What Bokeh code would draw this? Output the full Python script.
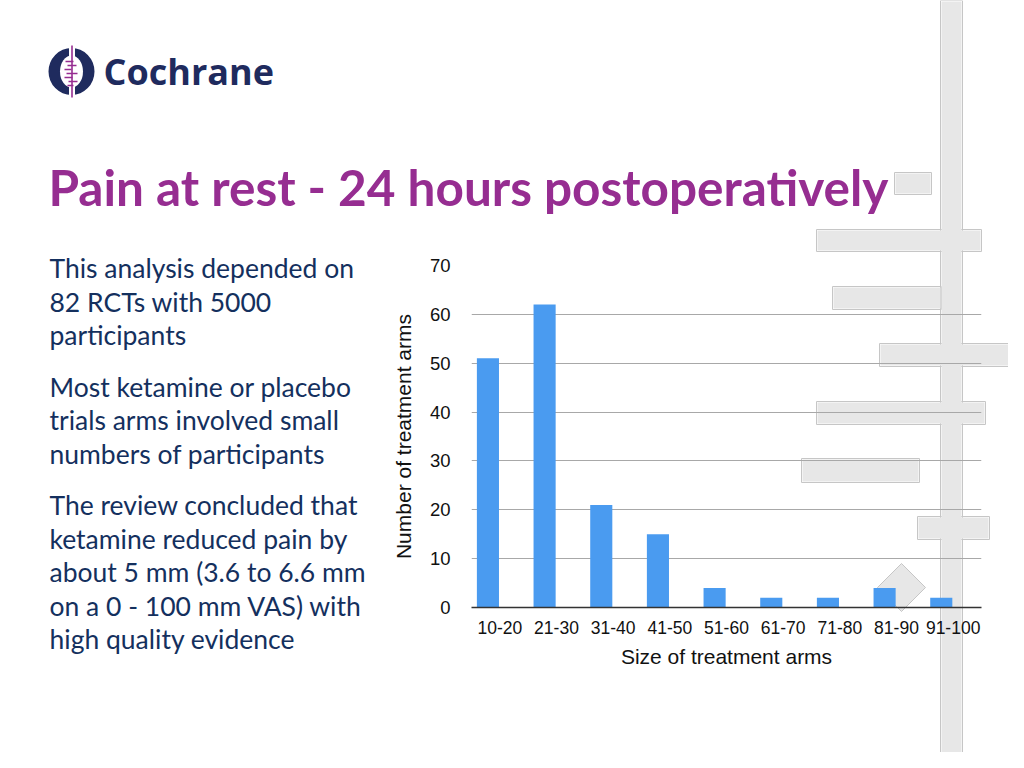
from bokeh.plotting import figure
from bokeh.models import (Range1d, FactorRange, BoxAnnotation, PolyAnnotation,
                          ColumnDataSource, FixedTicker)
from bokeh.layouts import column, row
from bokeh.transform import dodge
from bokeh.embed import file_html
from bokeh.resources import INLINE
from bokeh.core.properties import value

# ---------------- data ----------------
categories = ["10-20", "21-30", "31-40", "41-50", "51-60",
              "61-70", "71-80", "81-90", "91-100"]
arm_counts = [51, 62, 21, 15, 4, 2, 2, 4, 2]
y_ticks = [0, 10, 20, 30, 40, 50, 60, 70]
x_label = "Size of treatment arms"
y_label = "Number of treatment arms"
title_text = "Pain at rest - 24 hours postoperatively"
brand_text = "Cochrane"
paragraphs = [
    ["This analysis depended on", "82 RCTs with 5000", "participants"],
    ["Most ketamine or placebo", "trials arms involved small",
     "numbers of participants"],
    ["The review concluded that", "ketamine reduced pain by",
     "about 5 mm (3.6 to 6.6 mm", "on a 0 - 100 mm VAS) with",
     "high quality evidence"],
]

# ---------------- style ----------------
W, H = 1008, 752
NAVY = "#14305e"
LOGO_NAVY = "#1f2b5e"
PURPLE = "#962d91"
BAR = "#4a9bf0"
DECOR_FILL = "#e7e7e7"
DECOR_LINE = "#c6c6c6"
CHART_FONT = "Liberation Sans"
TEXT_FONT = "Lato"
BASE_SHIFT = 0.37  # em offset so that the alphabetic baseline lands where wanted

# decorative background shapes (page pixel coords: left, right, top, bottom)
DECOR_BOXES = [
    (940, 962, 0, 768),
    (894, 931, 172, 194),
    (816, 981, 229, 251),
    (832, 941, 286, 309),
    (879, 1024, 343, 366),
    (816, 985, 401, 424),
    (801, 919, 458, 482),
    (917, 989, 516, 539),
]
DIAMOND = (901, 587, 24)

# ---------------- background slide (logo, title, text, decoration) --------
bg = figure(width=W, height=H, x_range=Range1d(0, W), y_range=Range1d(H, 0),
            x_axis_location=None, y_axis_location=None, min_border=0,
            output_backend="svg", toolbar_location=None)
bg.grid.visible = False
bg.outline_line_color = None
bg.background_fill_color = "white"
bg.border_fill_color = "white"

cx, cy, hd = DIAMOND
for (l, r, t, b) in DECOR_BOXES:
    bg.add_layout(BoxAnnotation(left=l, right=r, top=t, bottom=b,
                                fill_color=None, fill_alpha=0,
                                line_color=DECOR_LINE, line_alpha=1,
                                line_width=1, level="image"))
bg.add_layout(PolyAnnotation(xs=[cx, cx + hd, cx, cx - hd],
                             ys=[cy - hd, cy, cy + hd, cy],
                             fill_color=DECOR_FILL, fill_alpha=1,
                             line_color=DECOR_LINE, line_alpha=1,
                             line_width=1, level="image"))
for (l, r, t, b) in DECOR_BOXES:
    bg.add_layout(BoxAnnotation(left=l + 1, right=r - 1, top=t + 1,
                                bottom=b - 1, fill_color=DECOR_FILL,
                                fill_alpha=1, line_color=None,
                                level="image"))

# logo emblem
bg.ellipse(x=71, y=71, width=46, height=47, fill_color=LOGO_NAVY,
           line_color=None)
bg.ellipse(x=71, y=71, width=23, height=32, fill_color="white",
           line_color=None)
bg.quad(left=[68.5], right=[74.5], top=[46], bottom=[96],
        fill_color="white", line_color=None)
bg.segment(x0=[71.5], y0=[45], x1=[71.5], y1=[97], line_color=PURPLE,
           line_width=1.6)
bg.segment(x0=[65, 67, 64, 66, 64, 68, 67],
           y0=[61, 65, 69, 73, 77, 81, 85],
           x1=[73, 76, 71, 77, 72, 77, 73],
           y1=[61, 65, 69, 73, 77, 81, 85],
           line_color=PURPLE, line_width=1.4)


def put_text(x, baseline, txt, size, color, style="normal", font=TEXT_FONT):
    bg.text(x=[x], y=[baseline - BASE_SHIFT * size], text=[txt],
            text_color=color, text_font=value(font), text_font_style=style,
            text_font_size=f"{size}px", text_baseline="alphabetic",
            text_align="left")


put_text(103, 84, brand_text, 36, LOGO_NAVY, "bold", "Open Sans")
put_text(48, 205, title_text, 49.5, PURPLE, "bold")

y0 = 277.5
for para in paragraphs:
    for ln in para:
        put_text(49, y0, ln, 26.5, NAVY)
        y0 += 33.5
    y0 += 18

# ---------------- chart, laid transparently over the slide ----------------
FRAME_L, FRAME_R, FRAME_T, FRAME_B = 471, 981, 265, 607
src = ColumnDataSource(dict(cat=categories, count=arm_counts))
ch = figure(width=W, height=H, x_range=FactorRange(*categories),
            y_range=Range1d(y_ticks[0], y_ticks[-1]),
            min_border_left=FRAME_L, min_border_right=W - FRAME_R,
            min_border_top=FRAME_T, min_border_bottom=H - FRAME_B,
            output_backend="svg", toolbar_location=None)
ch.outline_line_color = None
ch.background_fill_alpha = 0
ch.border_fill_alpha = 0
ch.xgrid.visible = False
ch.ygrid.grid_line_color = "#a8a8a8"
ch.ygrid.grid_line_width = 1
ch.ygrid.ticker = FixedTicker(ticks=y_ticks)

ch.vbar(x=dodge("cat", -0.21, range=ch.x_range), top="count", width=0.39,
        source=src, fill_color=BAR, line_color=None)

ya = ch.yaxis[0]
ya.ticker = FixedTicker(ticks=y_ticks)
ya.axis_line_color = None
ya.major_tick_line_color = None
ya.minor_tick_line_color = None
ya.major_tick_out = 0
ya.major_label_standoff = 21
ya.major_label_text_font = CHART_FONT
ya.major_label_text_font_size = "18.5px"
ya.major_label_text_color = "#111111"
ya.axis_label = y_label
ya.axis_label_text_font = CHART_FONT
ya.axis_label_text_font_size = "21px"
ya.axis_label_text_font_style = "normal"
ya.axis_label_text_color = "#111111"
ya.axis_label_standoff = 12

xa = ch.xaxis[0]
xa.axis_line_color = "#333333"
xa.axis_line_width = 1.5
xa.major_tick_line_color = None
xa.minor_tick_line_color = None
xa.major_tick_out = 0
xa.major_label_standoff = 13
xa.major_label_text_font = CHART_FONT
xa.major_label_text_font_size = "17.5px"
xa.major_label_text_color = "#111111"
xa.axis_label = x_label
xa.axis_label_text_font = CHART_FONT
xa.axis_label_text_font_size = "21px"
xa.axis_label_text_font_style = "normal"
xa.axis_label_text_color = "#111111"
xa.axis_label_standoff = 8

overlay = row(ch, spacing=0)
overlay.styles = {"margin-top": f"-{H}px", "position": "relative",
                  "z-index": "1"}
layout = column(bg, overlay, spacing=0)

open("out.html", "w").write(file_html(layout, INLINE))
